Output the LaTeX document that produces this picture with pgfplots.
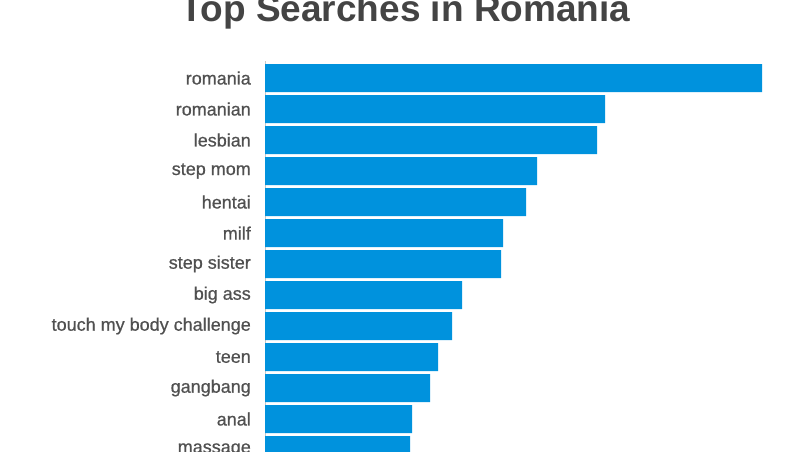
\documentclass[border=0pt]{standalone}
\usepackage{pgfplots}
\pgfplotsset{compat=1.18}
\usepackage{fontspec}
\setmainfont{Liberation Sans}
\newfontfamily\labfont[FakeBold=0.6]{Liberation Sans}
\definecolor{barblue}{RGB}{0,146,221}
\definecolor{labgray}{RGB}{80,80,80}
\definecolor{titlegray}{RGB}{68,68,68}
\definecolor{axgray}{RGB}{200,200,200}

\begin{document}
\begin{tikzpicture}
\path[use as bounding box, clip] (0,0) rectangle (800pt,451pt);
\node[anchor=base, font=\fontsize{37}{42}\selectfont\bfseries, text=titlegray, inner sep=0]
  at (405.5pt,429pt) {Top Searches in Romania};
\begin{axis}[
    at={(265pt,390pt)}, anchor=north west,
    scale only axis,
    width=500pt, height=435.55pt,
    xmin=0, xmax=500,
    ymin=-0.55, ymax=13.5,
    y dir=reverse,
    xbar, bar width=28pt,
    axis x line=none,
    axis y line*=left,
    y axis line style={axgray, line width=1pt, -},
    ytick={0,...,12},
    yticklabels={romania,romanian,lesbian,step mom,hentai,milf,step sister,big ass,touch my body challenge,teen,gangbang,anal,massage},
    major tick length=0pt,
    yticklabel style={font=\labfont\fontsize{18}{21}\selectfont, text=labgray, inner sep=0pt, xshift=-14pt},
    clip=false,
]
\addplot[fill=barblue, draw=none] coordinates {
    (497,0) (340,1) (332,2) (272,3) (261,4) (238,5) (236,6)
    (197,7) (187,8) (173,9) (165,10) (147,11) (145,12)
};
\end{axis}
\end{tikzpicture}
\end{document}
